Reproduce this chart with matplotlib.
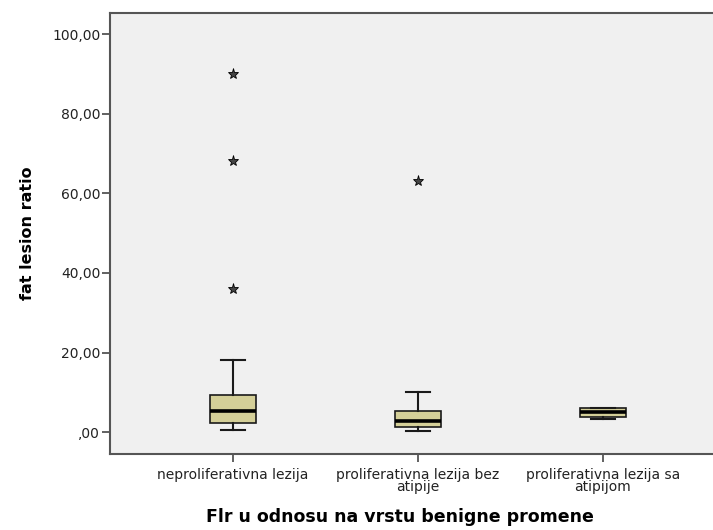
"""
Boxplot: fat lesion ratio po vrsti benigne promene
"""
import matplotlib
matplotlib.use('Agg')
from matplotlib import pyplot as plt

plt.rcParams['font.family'] = ['DejaVu Sans']

# kategorije i statistike (procenjeno sa slike)
groups = ['neproliferativna lezija', 'proliferativna lezija bez\natipije',
          'proliferativna lezija sa\natipijom']
whiskLow = [0.5, 0.4, 3.4]
q1 = [2.3, 1.4, 3.8]
med = [5.3, 2.8, 5.0]
q3 = [9.3, 5.2, 6.1]
whiskHigh = [18.1, 10.1, 6.1]
outliers = [[90.0, 68.0, 36.0], [63.0], []]

yTicks = [0, 20, 40, 60, 80, 100]
yTickLabels = [',00', '20,00', '40,00', '60,00', '80,00', '100,00']

boxColor = '#d4cf98'
edgeColor = '#1a1a1a'
frameColor = '#555555'

stats = []
for i, g in enumerate(groups):
    stats.append({'label': g, 'whislo': whiskLow[i], 'q1': q1[i], 'med': med[i],
                  'q3': q3[i], 'whishi': whiskHigh[i], 'fliers': outliers[i]})

fig = plt.figure(figsize=(7.13, 5.30), dpi=100)
ax = fig.add_axes([110 / 713, 76 / 530, 1 - 110 / 713, (454 - 13) / 530])
ax.set_facecolor('#f0f0f0')

ax.bxp(stats, positions=[1, 2, 3], widths=0.252, capwidths=0.126,
       patch_artist=True,
       boxprops=dict(facecolor=boxColor, edgecolor=edgeColor, linewidth=1.2),
       medianprops=dict(color='black', linewidth=2.6),
       whiskerprops=dict(color=edgeColor, linewidth=1.5),
       capprops=dict(color=edgeColor, linewidth=1.5),
       flierprops=dict(marker='*', markersize=8, markerfacecolor='#444444',
                       markeredgecolor='black', markeredgewidth=0.6,
                       linestyle='none'))

ax.set_xlim(0.335, 3.595)
ax.set_ylim(-5.5, 105.3)
ax.set_yticks(yTicks)
ax.set_yticklabels(yTickLabels)
ax.set_xticks([1, 2, 3])
ax.set_xticklabels(groups, linespacing=0.85)

for s in ['left', 'bottom', 'top']:
    ax.spines[s].set_color(frameColor)
    ax.spines[s].set_linewidth(1.5)
ax.spines['right'].set_visible(False)
ax.tick_params(axis='y', direction='out', length=6, width=1.3,
               color=frameColor, labelsize=10, labelcolor='#222222', pad=1)
ax.tick_params(axis='x', direction='out', length=6, width=1.3,
               color=frameColor, labelsize=10, labelcolor='#222222', pad=4)

ax.set_ylabel('fat lesion ratio', fontsize=11.5, fontweight='bold', labelpad=12)
ax.set_xlabel('Flr u odnosu na vrstu benigne promene', fontsize=12.5,
              fontweight='bold', labelpad=10, x=(400 - 110) / 603)

fig.savefig('out.png', dpi=100)
